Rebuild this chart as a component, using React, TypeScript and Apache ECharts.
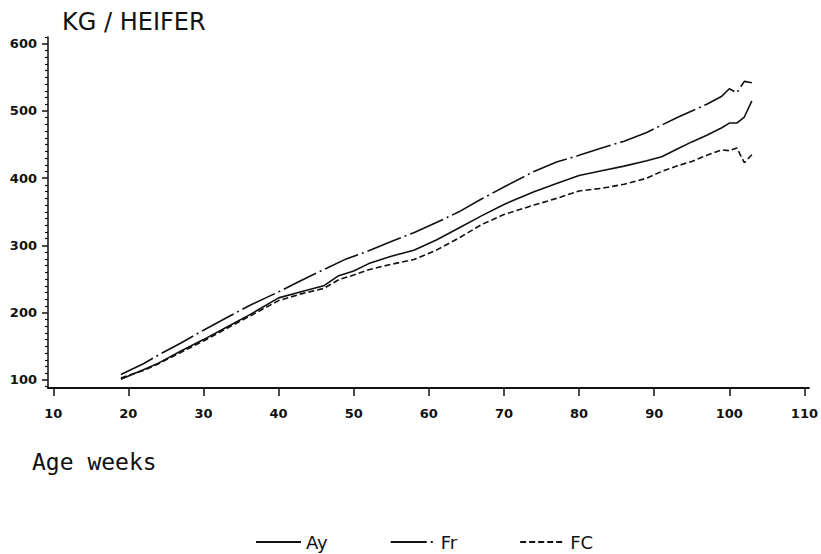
import React, { useEffect, useRef } from "react";
import * as echarts from "echarts";

const weeksAy = [19, 22, 24, 27, 30, 33, 36, 40, 43, 46, 48, 50, 52, 55, 58, 61, 64, 67, 70, 74, 77, 80, 83, 86, 89, 91, 93, 95, 97, 99, 100, 101, 102, 103];
const valuesAy = [101, 115, 125, 143, 160, 178, 196, 222, 231, 240, 255, 262, 273, 284, 293, 308, 326, 344, 361, 380, 392, 404, 411, 418, 426, 432, 443, 454, 464, 475, 482, 482, 491, 515];

const weeksFr = [19, 22, 24, 27, 30, 33, 36, 40, 43, 46, 49, 52, 55, 58, 61, 64, 67, 70, 74, 77, 80, 83, 86, 89, 91, 93, 95, 97, 99, 100, 101, 102, 103];
const valuesFr = [108, 124, 137, 155, 174, 192, 210, 231, 248, 264, 280, 292, 306, 319, 334, 350, 369, 387, 410, 424, 434, 445, 455, 468, 479, 490, 500, 510, 522, 533, 527, 544, 542];

const weeksFC = [19, 22, 24, 27, 30, 33, 36, 40, 43, 46, 48, 50, 52, 55, 58, 61, 64, 67, 70, 74, 77, 80, 83, 86, 89, 91, 93, 95, 97, 99, 100, 101, 102, 103];
const valuesFC = [103, 114, 124, 141, 158, 176, 194, 218, 228, 236, 249, 256, 264, 272, 279, 293, 311, 331, 346, 360, 370, 381, 385, 391, 400, 410, 418, 425, 434, 442, 441, 445, 423, 435];

const xTicks = [10, 20, 30, 40, 50, 60, 70, 80, 90, 100, 110];
const yTicks = [100, 200, 300, 400, 500, 600];
const yMinorTicks = [90, 110, 120, 130, 140, 150, 160, 170, 180, 190, 210, 220, 230, 240, 250, 260, 270, 280, 290, 310, 320, 330, 340, 350, 360, 370, 380, 390, 410, 420, 430, 440, 450, 460, 470, 480, 490, 510, 520, 530, 540, 550, 560, 570, 580, 590, 610];

const pair = (w: number[], v: number[]) => w.map((x, i) => [x, v[i]]);

export default function App() {
  const ref = useRef<HTMLDivElement>(null);
  useEffect(() => {
    document.body.style.margin = "0";
    const chart = echarts.init(ref.current!, undefined, { renderer: "svg" });
    const ink = "#111";
    const tickFont = { fontFamily: "DejaVu Sans", fontWeight: "bold" as const, fontSize: 13, color: ink };
    chart.setOption({
      animation: false,
      backgroundColor: "#fff",
      grid: { left: 48, right: 11, top: 37, bottom: 166 },
      graphic: [
        { type: "text", left: 62, top: 10, style: { text: "KG / HEIFER", font: "24px 'DejaVu Sans'", fill: ink } },
        { type: "text", left: 32, top: 450, style: { text: "Age weeks", font: "23px 'DejaVu Sans Mono'", fill: ink } },
      ],
      legend: {
        data: ["Ay", "Fr", "FC"],
        left: 255,
        top: 533,
        padding: 0,
        itemWidth: 45,
        itemHeight: 14,
        itemGap: 62,
        itemStyle: { opacity: 0 },
        textStyle: { fontFamily: "DejaVu Sans", fontSize: 18, color: ink },
      },
      xAxis: {
        type: "value",
        min: 9.3,
        max: 110.6,
        axisLine: { show: true, lineStyle: { color: ink, width: 1.8 } },
        axisTick: { show: true, customValues: xTicks, length: 8, lineStyle: { color: ink, width: 1.5 } },
        axisLabel: { customValues: xTicks, margin: 19, ...tickFont },
        splitLine: { show: false },
      },
      yAxis: [
        {
          type: "value",
          min: 88,
          max: 610,
          position: "left",
          axisLine: { show: true, lineStyle: { color: ink, width: 1.5 } },
          axisTick: { show: true, customValues: yTicks, length: 6, lineStyle: { color: ink, width: 1.5 } },
          axisLabel: { customValues: yTicks, margin: 11, ...tickFont },
          splitLine: { show: false },
        },
        {
          type: "value",
          min: 88,
          max: 610,
          position: "left",
          axisLine: { show: false },
          axisTick: { show: true, customValues: yMinorTicks, length: 3, lineStyle: { color: ink, width: 1.2 } },
          axisLabel: { show: false },
          splitLine: { show: false },
        },
      ],
      series: [
        {
          name: "Ay",
          type: "line",
          data: pair(weeksAy, valuesAy),
          showSymbol: false,
          symbol: "none",
          lineStyle: { color: ink, width: 1.6, type: "solid" },
          itemStyle: { color: ink },
        },
        {
          name: "Fr",
          type: "line",
          data: pair(weeksFr, valuesFr),
          showSymbol: false,
          symbol: "none",
          lineStyle: { color: ink, width: 1.6, type: [36, 4, 2, 4] },
          itemStyle: { color: ink },
        },
        {
          name: "FC",
          type: "line",
          data: pair(weeksFC, valuesFC),
          showSymbol: false,
          symbol: "none",
          lineStyle: { color: ink, width: 1.6, type: [6, 3] },
          itemStyle: { color: ink },
        },
      ],
    });
    return () => chart.dispose();
  }, []);
  return <div ref={ref} style={{ width: 821, height: 554 }} />;
}
